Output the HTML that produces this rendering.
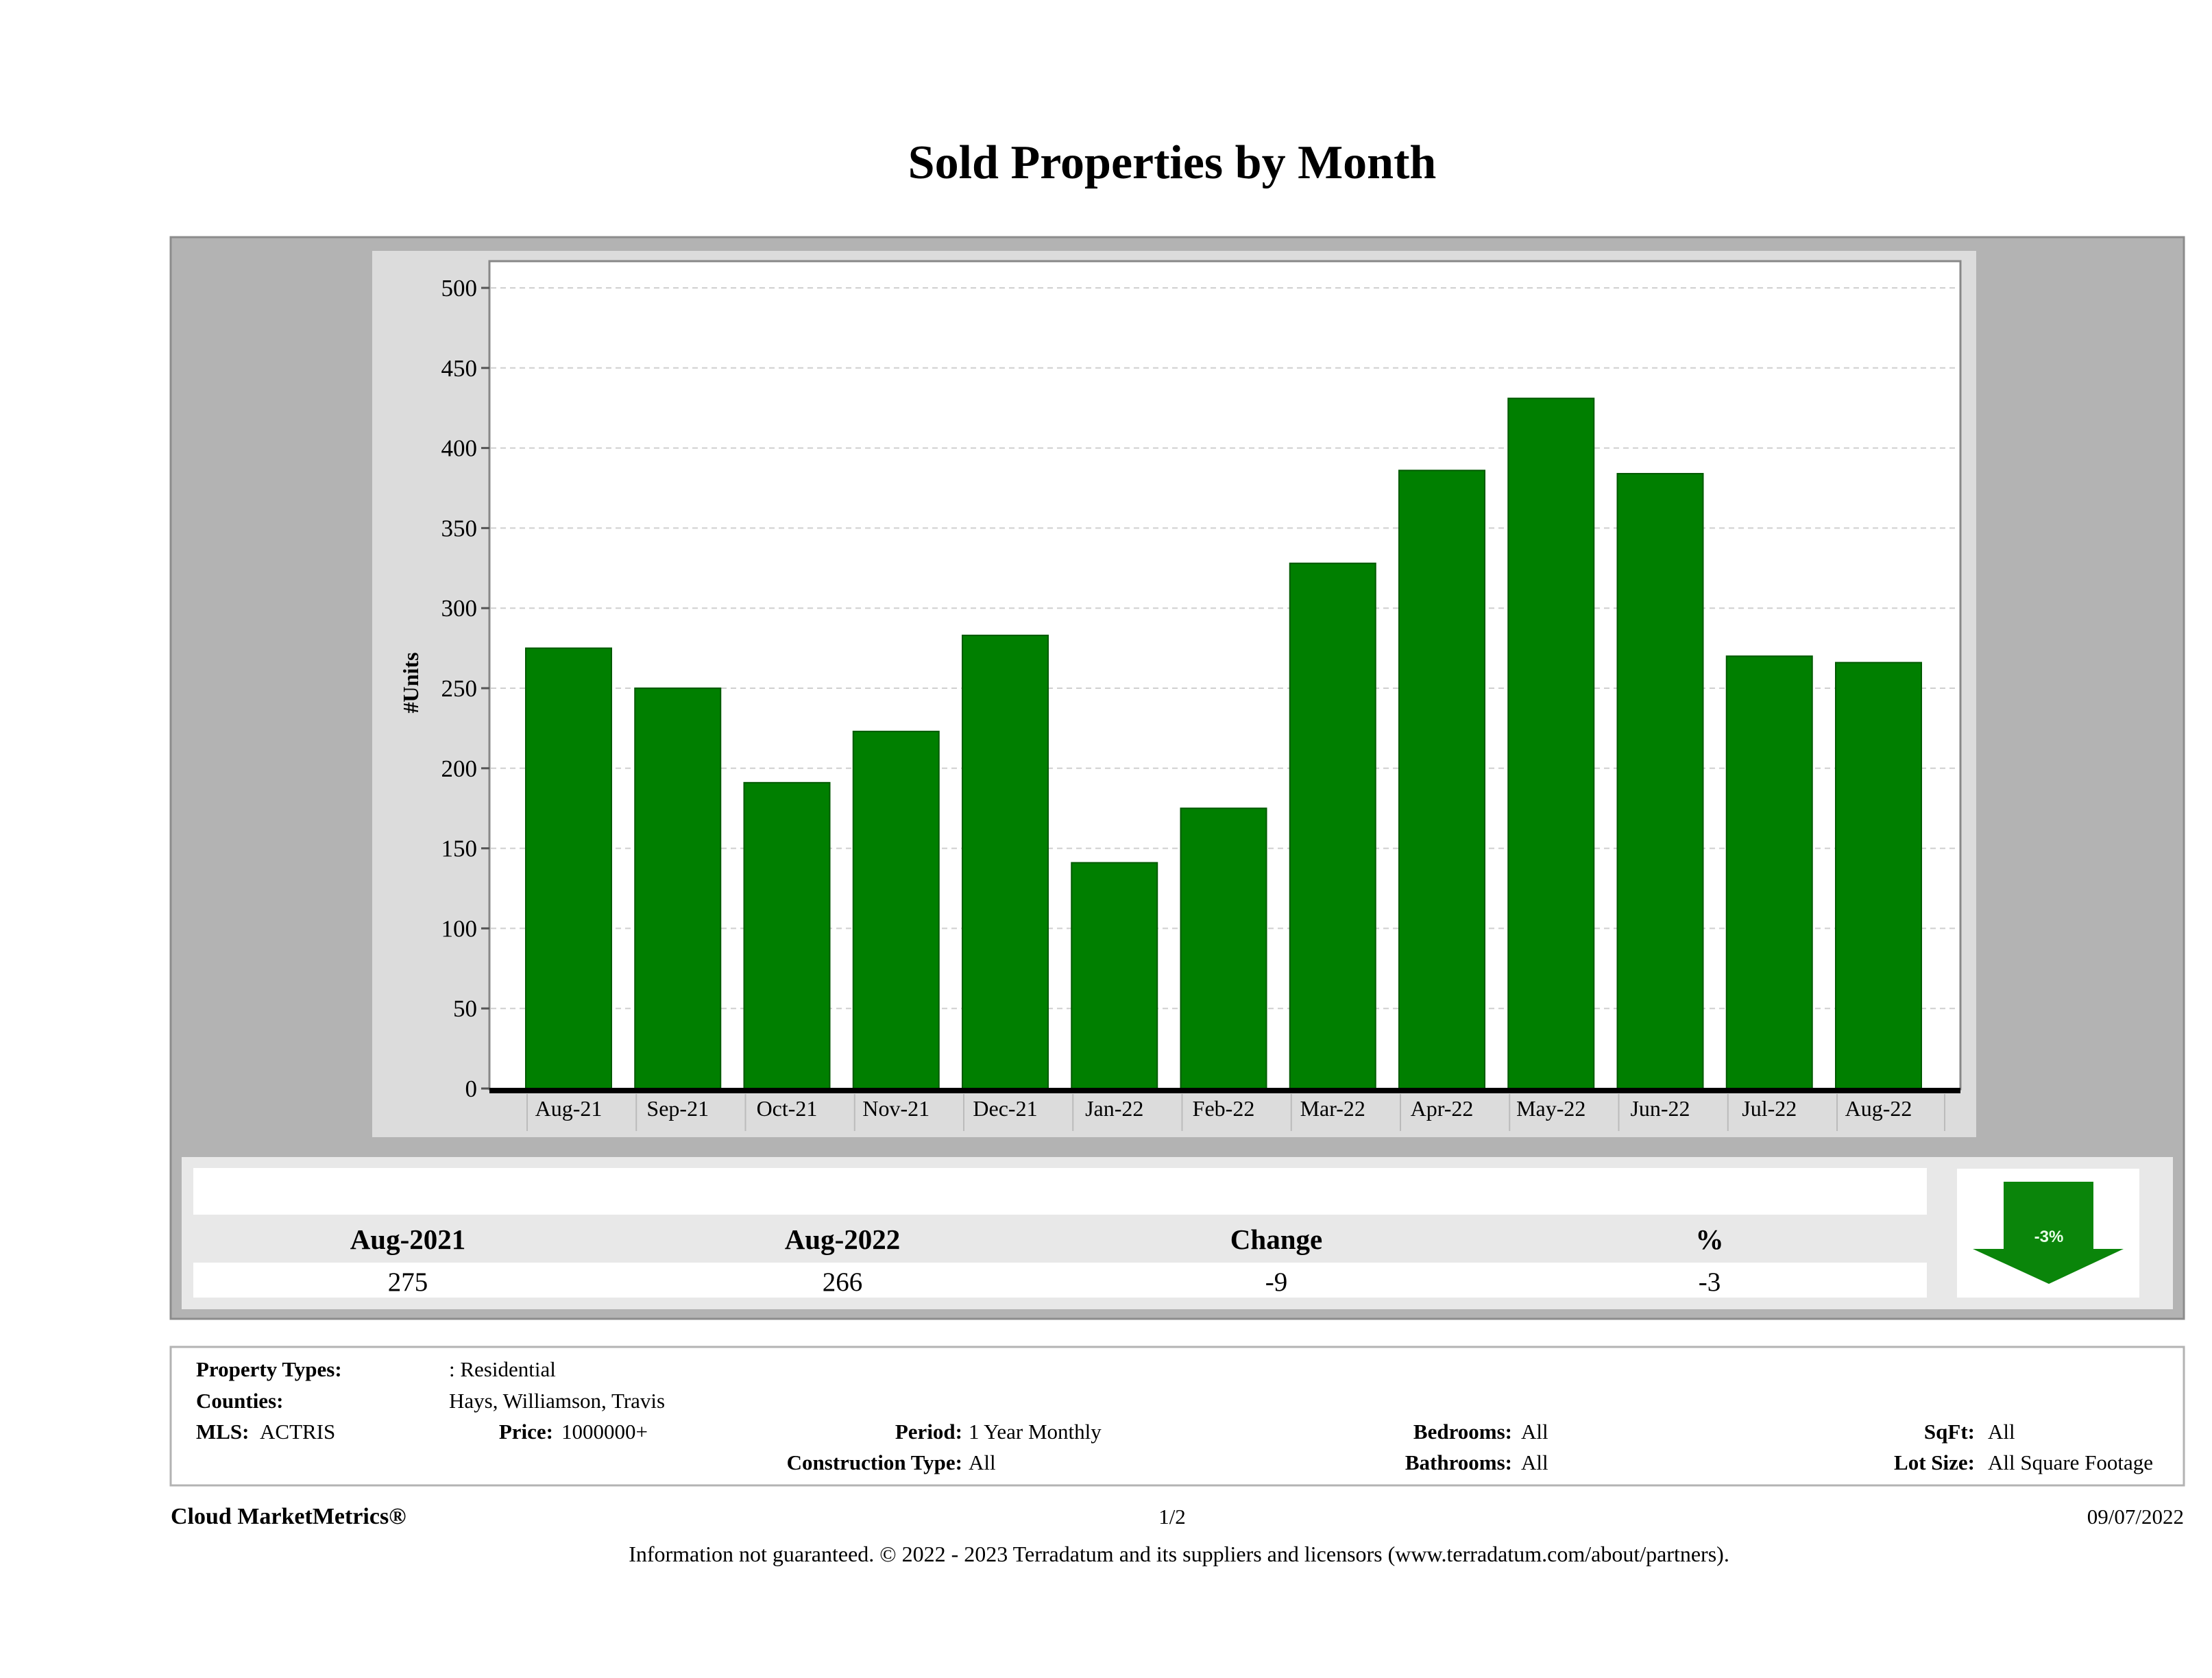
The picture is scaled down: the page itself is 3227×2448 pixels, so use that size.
<!DOCTYPE html>
<html><head><meta charset="utf-8"><style>
body{margin:0;background:#fff;}
svg{display:block;font-family:"Liberation Serif",serif;}
</style></head><body>
<svg width="3227" height="2448" viewBox="0 0 3227 2448" xmlns="http://www.w3.org/2000/svg">
<text x="1710" y="260" text-anchor="middle" font-size="70" font-weight="bold">Sold Properties by Month</text>
<rect x="249" y="346" width="2937" height="1578" fill="#b3b3b3" stroke="#8c8c8c" stroke-width="3"/>
<rect x="543" y="366" width="2340" height="1293" fill="#dcdcdc"/>
<rect x="714" y="381" width="2146" height="1208" fill="#fff" stroke="#888" stroke-width="3"/>
<g id="grid"></g>
<g id="bars"></g>
<g id="xaxis"></g>
<text transform="translate(610,996) rotate(-90)" text-anchor="middle" font-size="32" font-weight="bold">#Units</text>

<rect x="265" y="1688" width="2905" height="222" fill="#e8e8e8"/>
<rect x="282" y="1704" width="2529" height="68" fill="#fff"/>
<rect x="282" y="1842" width="2529" height="51" fill="#fff"/>
<g font-size="41" font-weight="bold" text-anchor="middle">
<text x="595" y="1822">Aug-2021</text>
<text x="1229" y="1822">Aug-2022</text>
<text x="1862" y="1822">Change</text>
<text x="2494" y="1822">%</text>
</g>
<g font-size="39" text-anchor="middle">
<text x="595" y="1883">275</text>
<text x="1229" y="1883">266</text>
<text x="1862" y="1883">-9</text>
<text x="2494" y="1883">-3</text>
</g>
<rect x="2855" y="1705" width="266" height="188" fill="#fff"/>
<polygon points="2923,1724 3054,1724 3054,1822 3098,1822 2989,1873 2878,1822 2923,1822" fill="#0a850a"/>
<text x="2989" y="1812" text-anchor="middle" font-size="24" font-weight="bold" fill="#e8ffe8" font-family="Liberation Sans,sans-serif">-3%</text>

<rect x="249" y="1965" width="2937" height="202" fill="#fff" stroke="#b3b3b3" stroke-width="3"/>
<g font-size="31">
<text x="286" y="2008" font-weight="bold">Property Types:</text>
<text x="655" y="2008">: Residential</text>
<text x="286" y="2054" font-weight="bold">Counties:</text>
<text x="655" y="2054">Hays, Williamson, Travis</text>
<text x="286" y="2099" font-weight="bold">MLS:</text>
<text x="379" y="2099">ACTRIS</text>
<text x="807" y="2099" font-weight="bold" text-anchor="end">Price:</text>
<text x="819" y="2099">1000000+</text>
<text x="1404" y="2099" font-weight="bold" text-anchor="end">Period:</text>
<text x="1413" y="2099">1 Year Monthly</text>
<text x="1404" y="2144" font-weight="bold" text-anchor="end">Construction Type:</text>
<text x="1413" y="2144">All</text>
<text x="2206" y="2099" font-weight="bold" text-anchor="end">Bedrooms:</text>
<text x="2219" y="2099">All</text>
<text x="2206" y="2144" font-weight="bold" text-anchor="end">Bathrooms:</text>
<text x="2219" y="2144">All</text>
<text x="2881" y="2099" font-weight="bold" text-anchor="end">SqFt:</text>
<text x="2900" y="2099">All</text>
<text x="2881" y="2144" font-weight="bold" text-anchor="end">Lot Size:</text>
<text x="2900" y="2144">All Square Footage</text>
</g>
<text x="249" y="2223" font-size="34" font-weight="bold">Cloud MarketMetrics®</text>
<text x="1710" y="2223" font-size="31" text-anchor="middle">1/2</text>
<text x="3186" y="2223" font-size="31" text-anchor="end">09/07/2022</text>
<text x="1720" y="2278" font-size="32" text-anchor="middle">Information not guaranteed. © 2022 - 2023 Terradatum and its suppliers and licensors (www.terradatum.com/about/partners).</text>
</svg>
<script>
const categories=["Aug-21","Sep-21","Oct-21","Nov-21","Dec-21","Jan-22","Feb-22","Mar-22","Apr-22","May-22","Jun-22","Jul-22","Aug-22"];
const soldUnits=[275,250,191,223,283,141,175,328,386,431,384,270,266];
const yTicks=[0,50,100,150,200,250,300,350,400,450,500];
const NS="http://www.w3.org/2000/svg";
const y0=1588,y500=420,yMax=500;
function yScale(v){return y0-(y0-y500)*v/yMax;}
const xStart=829.5,step=159.25,barW=125;
function xScale(i){return xStart+i*step;}
function mk(tag,attrs,parent){const e=document.createElementNS(NS,tag);for(const k in attrs)e.setAttribute(k,attrs[k]);parent.appendChild(e);return e;}
const grid=document.getElementById('grid'),bars=document.getElementById('bars'),xa=document.getElementById('xaxis');
yTicks.forEach(t=>{
  const y=yScale(t);
  if(t>0){const l=mk('line',{x1:716,x2:2858,y1:y,y2:y,stroke:'#cfcfcf','stroke-width':2,'stroke-dasharray':'8 6'},grid);
  
  }
  const tk=mk('line',{x1:702,x2:714,y1:y,y2:y,stroke:'#555','stroke-width':3},grid);
  
  
  const tx=mk('text',{x:696,y:y+12,'text-anchor':'end','font-size':35},grid);
  tx.textContent=t;
  
  
});
categories.forEach((c,i)=>{
  const cx=xScale(i),v=soldUnits[i];
  const r=mk('rect',{x:cx-barW/2,y:yScale(v),width:barW,height:y0-yScale(v),fill:'#007f00',stroke:'#005a00','stroke-width':2},bars);
  
  
  const s=mk('line',{x1:cx-barW/2+2,x2:cx-barW/2+2,y1:1596,y2:1650,stroke:'#bbb','stroke-width':2},xa);
  
  
  const t=mk('text',{x:cx,y:1628,'text-anchor':'middle','font-size':32},xa);
  t.textContent=c;
  
  
});
const ls=mk('line',{x1:2837,x2:2837,y1:1596,y2:1650,stroke:'#bbb','stroke-width':2},xa);


const ax=mk('rect',{x:714,y:1587,width:2146,height:8,fill:'#000'},xa);


</script>
</body></html>
